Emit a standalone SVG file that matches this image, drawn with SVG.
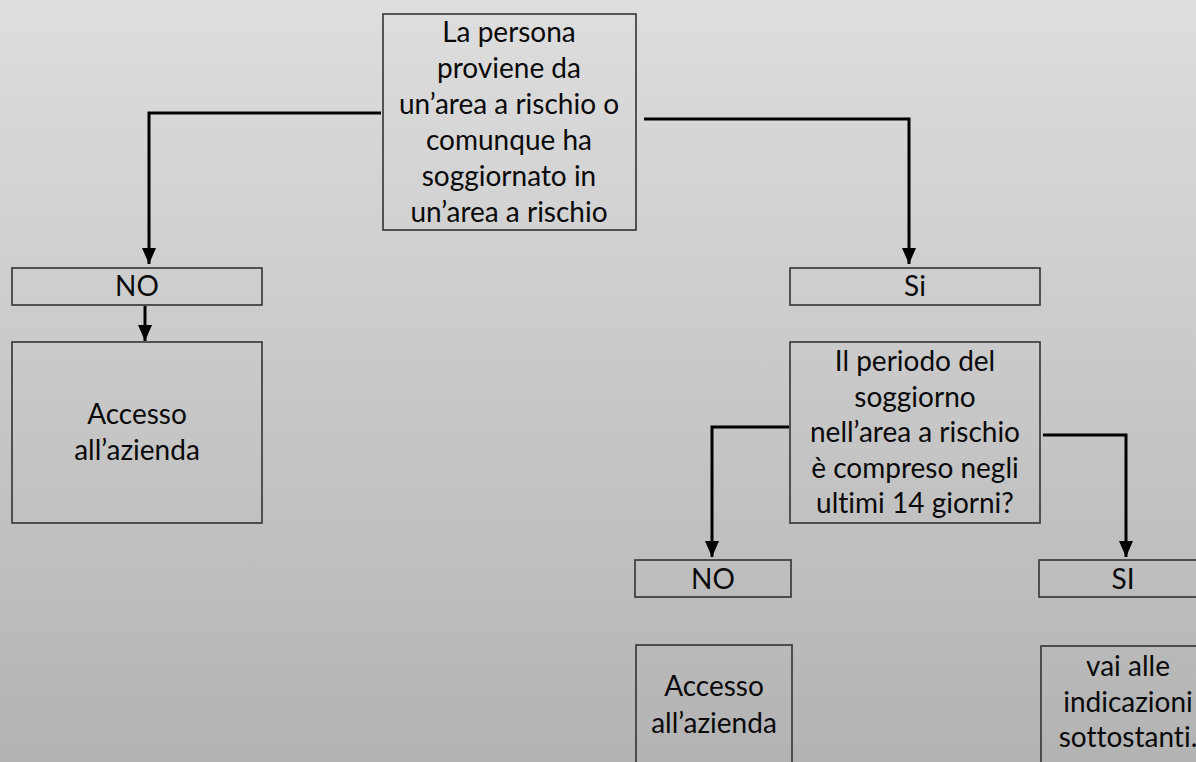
<svg xmlns="http://www.w3.org/2000/svg" width="1196" height="762" viewBox="0 0 1196 762">
<defs>
<linearGradient id="bg" x1="0" y1="0" x2="0" y2="1">
<stop offset="0" stop-color="#dedede"/>
<stop offset="1" stop-color="#b3b3b3"/>
</linearGradient>
<marker id="arr" viewBox="0 0 16 14" refX="16" refY="7" markerWidth="16" markerHeight="14" markerUnits="userSpaceOnUse" orient="auto">
<path d="M0,0 L16,7 L0,14 z" fill="#000"/>
</marker>
<style>
.box{fill:none;stroke:#333;stroke-width:1.6}
.t{font-family:"Lato","Liberation Sans",sans-serif;font-size:28px;fill:#0a0a0a;text-anchor:middle;font-variant-ligatures:none;font-feature-settings:"liga" 0,"clig" 0}
.c{fill:none;stroke:#000;stroke-width:3;marker-end:url(#arr)}
</style>
</defs>
<rect width="1196" height="762" fill="url(#bg)"/>
<g id="q1">
<rect class="box" x="383" y="14" width="253" height="216"/>
<text class="t" x="509" y="42">La persona</text>
<text class="t" x="509" y="78">proviene da</text>
<text class="t" x="509" y="114">un’area a rischio o</text>
<text class="t" x="509" y="150">comunque ha</text>
<text class="t" x="509" y="186">soggiornato in</text>
<text class="t" x="509" y="222">un’area a rischio</text>
</g>
<g id="no1">
<rect class="box" x="12" y="268" width="250" height="37"/>
<text class="t" x="137" y="296">NO</text>
</g>
<g id="acc1">
<rect class="box" x="12" y="342" width="250" height="181"/>
<text class="t" x="137" y="424">Accesso</text>
<text class="t" x="137" y="460">all’azienda</text>
</g>
<g id="si1">
<rect class="box" x="790" y="268" width="250" height="37"/>
<text class="t" x="915" y="296">Si</text>
</g>
<g id="q2">
<rect class="box" x="790" y="342" width="250" height="181"/>
<text class="t" x="915" y="371">Il periodo del</text>
<text class="t" x="915" y="406.5">soggiorno</text>
<text class="t" x="915" y="442">nell’area a rischio</text>
<text class="t" x="915" y="477.5">è compreso negli</text>
<text class="t" x="915" y="513">ultimi 14 giorni?</text>
</g>
<g id="no2">
<rect class="box" x="635" y="560" width="156" height="37"/>
<text class="t" x="713" y="589">NO</text>
</g>
<g id="si2">
<rect class="box" x="1039" y="560" width="168" height="37"/>
<text class="t" x="1123" y="589">SI</text>
</g>
<g id="acc2">
<rect class="box" x="636" y="645" width="156" height="130"/>
<text class="t" x="714" y="696">Accesso</text>
<text class="t" x="714" y="733">all’azienda</text>
</g>
<g id="ind">
<rect class="box" x="1041" y="646" width="174" height="130"/>
<text class="t" x="1128" y="676">vai alle</text>
<text class="t" x="1128" y="712">indicazioni</text>
<text class="t" x="1128" y="747">sottostanti.</text>
</g>
<g id="connectors">
<path class="c" d="M381,113 H149 V264"/>
<path class="c" d="M145,306 V341"/>
<path class="c" d="M644,119 H909 V264"/>
<path class="c" d="M789,427 H712 V557"/>
<path class="c" d="M1043,435 H1126 V557"/>
</g>
</svg>
